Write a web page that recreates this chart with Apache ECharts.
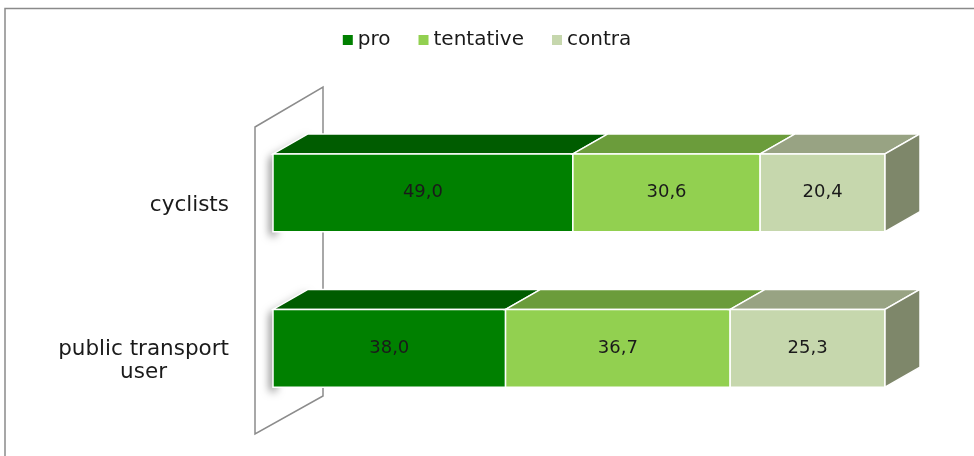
<!DOCTYPE html>
<html>
<head>
<meta charset="utf-8">
<script src="https://cdn.jsdelivr.net/npm/echarts@6/dist/echarts.min.js"></script>
<style>html,body{margin:0;padding:0;background:#fff;}#c{width:974px;height:456px;}</style>
</head>
<body>
<div id="c"></div>
<script>
var categories = ['cyclists', 'public transport\nuser'];
var seriesNames = ['pro', 'tentative', 'contra'];
var pro = [49.0, 38.0];
var tentative = [30.6, 36.7];
var contra = [20.4, 25.3];

var values = [pro, tentative, contra];
var frontColors = ['#008000', '#92d050', '#c6d7ad'];
var topColors = ['#005c00', '#6b9c3b', '#98a383'];
var sideColor = '#7e876a';
var DX = 35, DY = 20;

function buildData(si) {
  return categories.map(function (c, ci) {
    var start = 0;
    for (var k = 0; k < si; k++) start += values[k][ci];
    return [start, start + values[si][ci], ci, values[si][ci]];
  });
}

function makeRender(si) {
  return function (params, api) {
    var ci = api.value(2);
    var p0 = api.coord([api.value(0), ci]);
    var p1 = api.coord([api.value(1), ci]);
    var h = api.size([0, 1])[1] * 0.5;
    var x0 = p0[0], x1 = p1[0], yT = p0[1] - h / 2, yB = p0[1] + h / 2;
    var stroke = { stroke: '#ffffff', lineWidth: 1.5 };
    var children = [];
    if (si === 0) {
      var OFF = 3000;
      children.push({ type: 'polygon', silent: true,
        shape: { points: [[x0 - OFF, yB], [x0 - OFF, yT], [x0 + DX - OFF, yT - DY], [x0 + DX + 4 - OFF, yT - DY], [x0 + 6 - OFF, yT], [x0 + 6 - OFF, yB]] },
        style: { fill: '#000', shadowColor: 'rgba(0,0,0,0.55)', shadowBlur: 9, shadowOffsetX: OFF - 3, shadowOffsetY: 4 } });
    }
    children.push(
      { type: 'polygon', shape: { points: [[x0, yT], [x1, yT], [x1 + DX, yT - DY], [x0 + DX, yT - DY]] },
        style: Object.assign({ fill: topColors[si] }, stroke) },
      { type: 'rect', shape: { x: x0, y: yT, width: x1 - x0, height: h },
        style: Object.assign({ fill: frontColors[si] }, stroke) },
      { type: 'text', x: (x0 + x1) / 2, y: (yT + yB) / 2,
        style: { text: api.value(3).toFixed(1).replace('.', ','), fill: '#1a1a1a',
          font: '18px "DejaVu Sans"', align: 'center', verticalAlign: 'middle' } }
    );
    if (si === seriesNames.length - 1) {
      children.push({ type: 'polygon', shape: { points: [[x1, yT], [x1 + DX, yT - DY], [x1 + DX, yB - DY], [x1, yB]] },
        style: Object.assign({ fill: sideColor }, stroke) });
    }
    return { type: 'group', children: children };
  };
}

var series = seriesNames.map(function (name, si) {
  return {
    type: 'custom',
    name: name,
    coordinateSystem: 'cartesian2d',
    itemStyle: { color: frontColors[si] },
    encode: { x: [0, 1], y: 2 },
    renderItem: makeRender(si),
    data: buildData(si),
    z: 3
  };
});

var chart = echarts.init(document.getElementById('c'));
chart.setOption({
  animation: false,
  backgroundColor: '#ffffff',
  legend: {
    top: 25,
    left: 'center',
    itemWidth: 10,
    itemHeight: 10,
    itemGap: 28,
    icon: 'rect',
    textStyle: { fontFamily: 'DejaVu Sans', fontSize: 20, color: '#1a1a1a' },
    data: seriesNames
  },
  grid: { left: 273, right: 89, top: 115, height: 311 },
  xAxis: { type: 'value', min: 0, max: 100, show: false },
  yAxis: {
    type: 'category',
    data: categories,
    inverse: true,
    axisLine: { show: false },
    axisTick: { show: false },
    axisLabel: {
      margin: 44,
      formatter: function (v) {
        return v.split('\n').map(function (l) { return '{c|' + l + '}'; }).join('\n');
      },
      rich: { c: { align: 'center', fontFamily: 'DejaVu Sans', fontSize: 21.5, color: '#1a1a1a', lineHeight: 23 } },
      padding: [25, 0, 0, 0]
    }
  },
  graphic: [
    { type: 'polyline', z: 0, shape: { points: [[5, 456], [5, 8.5], [974, 8.5]] },
      style: { stroke: '#8a8a8a', lineWidth: 1.5, fill: null } },
    { type: 'polygon', z: 0, shape: { points: [[255, 127], [323, 87], [323, 396], [255, 434]] },
      style: { stroke: '#8c8c8c', lineWidth: 1.5, fill: '#ffffff' } }
  ],
  series: series
});
</script>
</body>
</html>
